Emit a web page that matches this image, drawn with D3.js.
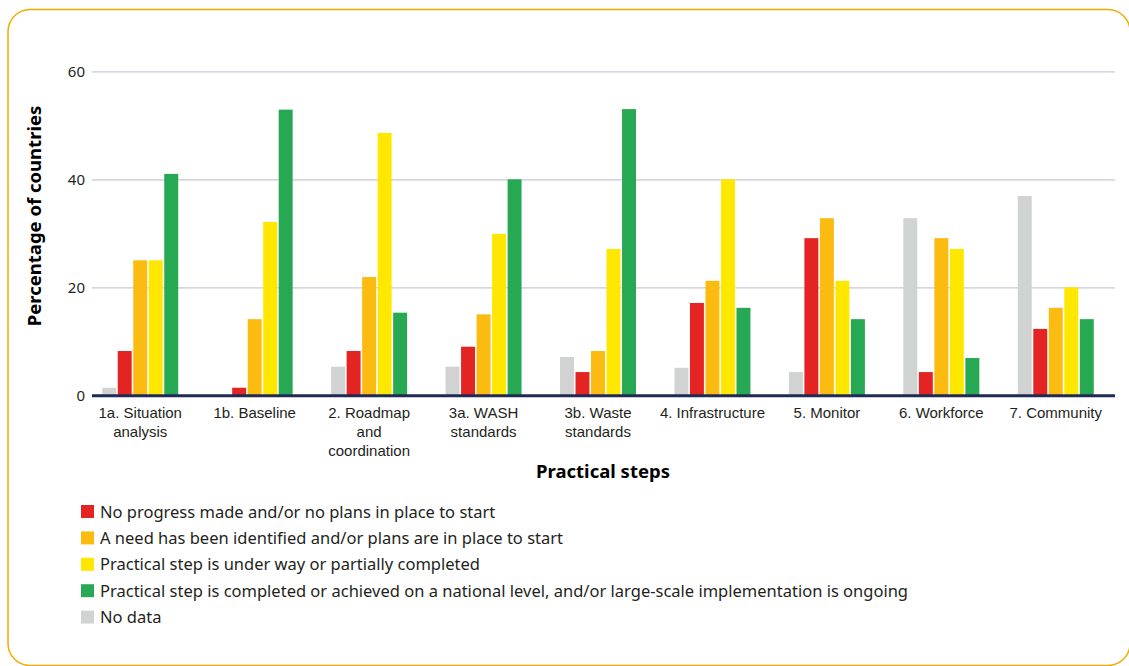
<!DOCTYPE html>
<html>
<head>
<meta charset="utf-8">
<script src="https://cdn.jsdelivr.net/npm/d3@7"></script>
<style>
  html, body { margin: 0; padding: 0; background: #ffffff; }
  svg { display: block; font-family: "Noto Sans", "Lato", sans-serif; }
</style>
</head>
<body>
<svg id="chart" width="1129" height="666"></svg>
<script>
// ---- Data ----
const categories = ["1a", "1b", "2", "3a", "3b", "4", "5", "6", "7"];
const categoryLabels = [
  ["1a. Situation", "analysis"],
  ["1b. Baseline"],
  ["2. Roadmap", "and", "coordination"],
  ["3a. WASH", "standards"],
  ["3b. Waste", "standards"],
  ["4. Infrastructure"],
  ["5. Monitor"],
  ["6. Workforce"],
  ["7. Community"]
];
const noData         = [1.4, 0,    5.3,  5.3,  7.1,  5.1,  4.3,  32.8, 36.9];
const noProgress     = [8.2, 1.4,  8.2,  9.0,  4.3,  17.1, 29.1, 4.3,  12.3];
const needIdentified = [25.0, 14.1, 21.9, 15.0, 8.2,  21.2, 32.8, 29.1, 16.2];
const underWay       = [25.0, 32.1, 48.6, 29.9, 27.1, 40.0, 21.2, 27.1, 20.0];
const completed      = [41.0, 52.9, 15.3, 40.0, 53.0, 16.2, 14.1, 6.9,  14.1];

const seriesKeys = ["noData", "noProgress", "needIdentified", "underWay", "completed"];
const seriesValues = { noData, noProgress, needIdentified, underWay, completed };
const seriesNames = {
  noProgress: "No progress made and/or no plans in place to start",
  needIdentified: "A need has been identified and/or plans are in place to start",
  underWay: "Practical step is under way or partially completed",
  completed: "Practical step is completed or achieved on a national level, and/or large-scale implementation is ongoing",
  noData: "No data"
};
const legendOrder = ["noProgress", "needIdentified", "underWay", "completed", "noData"];
const yTicks = [0, 20, 40, 60];

// ---- Styles ----
const colors = {
  noData: "#d1d3d2",
  noProgress: "#e42423",
  needIdentified: "#fbbb10",
  underWay: "#ffe700",
  completed: "#27a853"
};

const svg = d3.select("#chart");

// Orange rounded frame
svg.append("rect")
  .attr("x", 8).attr("y", 9.5)
  .attr("width", 1122).attr("height", 656)
  .attr("rx", 22).attr("ry", 22)
  .attr("fill", "none")
  .attr("stroke", "#f6a900")
  .attr("stroke-width", 1.5);

const gridLeft = 92, gridRight = 1115;
const x = d3.scaleBand().domain(categories).range([83, 1113]).padding(0);
const y = d3.scaleLinear().domain([0, 60]).range([395.3, 71.3]);
const groupWidth = 76;
const xs = d3.scaleBand().domain(seriesKeys).range([0, groupWidth]).paddingInner(0.1);

// Y axis with gridlines
const yAxis = d3.axisLeft(y).tickValues(yTicks).tickSize(-(gridRight - gridLeft)).tickPadding(7).tickFormat(d3.format("d"));
const yg = svg.append("g").attr("transform", `translate(${gridLeft},0)`).call(yAxis);
yg.select(".domain").remove();
yg.selectAll(".tick line").attr("stroke", "#c9c7d6").attr("stroke-width", 1.2);
yg.selectAll(".tick text")
  .attr("fill", "#231f20")
  .style("font-size", "15px")
  .style("font-family", "'Noto Sans', sans-serif");

// Bars
const groups = svg.append("g").selectAll("g")
  .data(categories)
  .join("g")
  .attr("transform", d => `translate(${x(d) + (x.bandwidth() - groupWidth) / 2},0)`);

groups.selectAll("rect")
  .data((d, i) => seriesKeys.map(k => ({ key: k, value: seriesValues[k][i] })))
  .join("rect")
  .attr("x", d => xs(d.key))
  .attr("width", xs.bandwidth())
  .attr("y", d => y(d.value))
  .attr("height", d => y(0) - y(d.value))
  .attr("fill", d => colors[d.key]);

// Baseline
svg.append("line")
  .attr("x1", gridLeft).attr("x2", gridRight)
  .attr("y1", y(0) + 0.5).attr("y2", y(0) + 0.5)
  .attr("stroke", "#1f2a56").attr("stroke-width", 3);

// X axis labels (via band scale)
const xAxis = d3.axisBottom(x).tickSize(0).tickPadding(0).tickFormat(() => "");
const xg = svg.append("g").attr("transform", `translate(0,${y(0)})`).call(xAxis);
xg.select(".domain").remove();
xg.selectAll(".tick").each(function(d, i) {
  const t = d3.select(this).append("text")
    .attr("text-anchor", "middle")
    .attr("fill", "#231f20")
    .style("font-size", "15px");
  categoryLabels[i].forEach((line, j) => {
    t.append("tspan").attr("x", 0).attr("y", 23 + j * 19).text(line);
  });
});

// Axis titles
svg.append("text")
  .attr("transform", "translate(41,216) rotate(-90)")
  .attr("text-anchor", "middle")
  .attr("fill", "#000")
  .style("font-size", "18.5px")
  .style("font-weight", "bold")
  .text("Percentage of countries");

svg.append("text")
  .attr("x", 603).attr("y", 478)
  .attr("text-anchor", "middle")
  .attr("fill", "#000")
  .style("font-size", "18.5px")
  .style("font-weight", "bold")
  .text("Practical steps");

// Legend
const legend = svg.append("g").attr("transform", "translate(81,505)");
const li = legend.selectAll("g").data(legendOrder).join("g")
  .attr("transform", (d, i) => `translate(0,${i * 26.4})`);
li.append("rect").attr("width", 13).attr("height", 13).attr("fill", d => colors[d]);
li.append("text")
  .attr("x", 19).attr("y", 12.5)
  .attr("fill", "#231f20")
  .style("font-size", "16.5px")
  .text(d => seriesNames[d]);
</script>
</body>
</html>
